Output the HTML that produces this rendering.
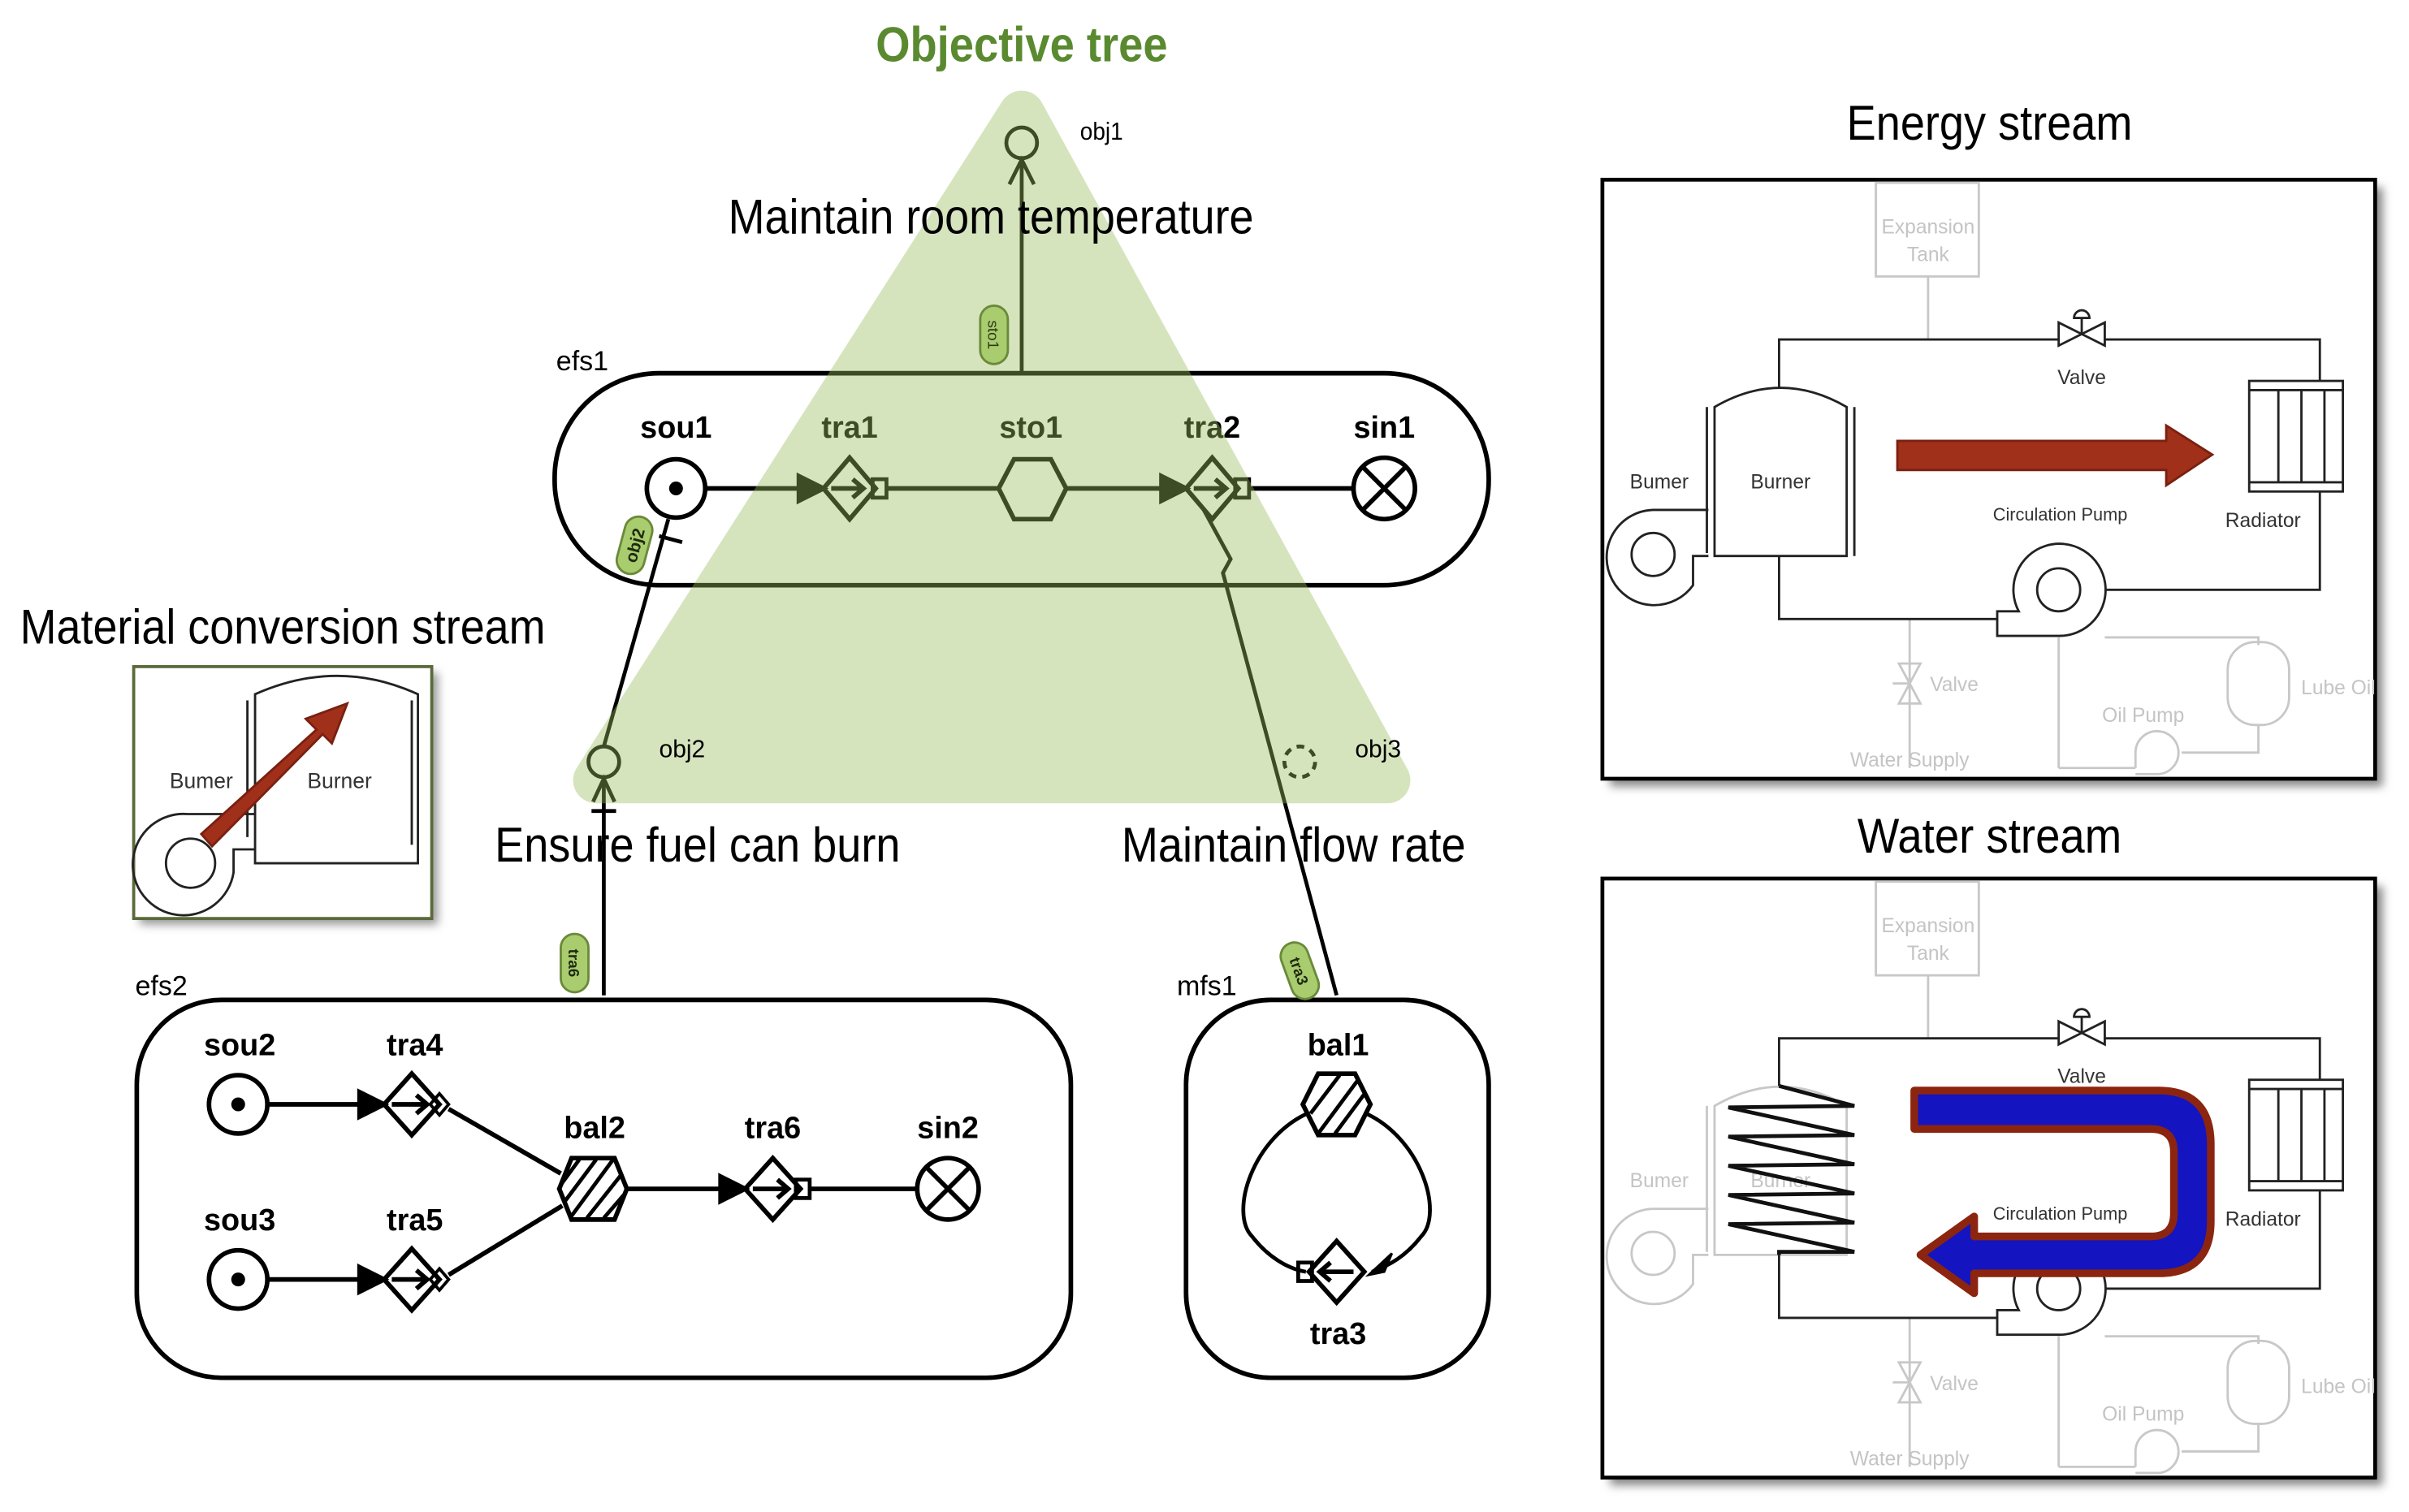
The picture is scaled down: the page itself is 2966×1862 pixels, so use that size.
<!DOCTYPE html>
<html><head><meta charset="utf-8"><style>
html,body{margin:0;padding:0;background:#fff;}
svg{display:block;}
text{font-family:"Liberation Sans",sans-serif;}
.lb{font-size:20px;font-weight:bold;text-anchor:middle;}
.big{font-size:32px;text-anchor:middle;}
.sm{font-size:18px;}
.pp{font-size:13px;}
.gt{fill:#c4c4c4;font-size:13px;text-anchor:middle;}
.bt{fill:#333;font-size:13px;text-anchor:middle;}
</style></head><body>
<svg width="2966" height="1862" viewBox="0 0 1568 984.4" xmlns="http://www.w3.org/2000/svg">
<defs>
<filter id="sh" x="-10%" y="-10%" width="130%" height="130%"><feGaussianBlur stdDeviation="3"/></filter>
</defs>

<text x="665" y="40" style="font-size:32px;font-weight:bold;fill:#5a8a30;text-anchor:middle" textLength="190" lengthAdjust="spacingAndGlyphs">Objective tree</text>

<!-- ================= efs1 ================= -->
<text x="362" y="241" class="sm">efs1</text>
<rect x="361" y="243" width="608" height="138" rx="68" fill="none" stroke="#000" stroke-width="3"/>
<g stroke="#000" stroke-width="3" fill="none">
  <circle cx="440" cy="318" r="19" fill="#fff"/>
  <line x1="459" y1="318" x2="522" y2="318"/>
  <polygon points="520,310 536,318 520,326" fill="#000"/>
  <polygon points="536,318 553,298 570,318 553,338" fill="none"/>
  <line x1="541" y1="318" x2="560" y2="318"/>
  <polyline points="555,312 562,318 555,324"/>
  <rect x="568" y="312" width="9" height="12" stroke-width="2.5"/>
  <line x1="577" y1="318" x2="650" y2="318"/>
  <polygon points="650,318 660,299 684,299 694,318 684,338 660,338"/>
  <line x1="694" y1="318" x2="758" y2="318"/>
  <polygon points="756,310 772,318 756,326" fill="#000"/>
  <polygon points="772,318 789,298 806,318 789,338"/>
  <line x1="777" y1="318" x2="796" y2="318"/>
  <polyline points="791,312 798,318 791,324"/>
  <rect x="804" y="312" width="9" height="12" stroke-width="2.5"/>
  <line x1="813" y1="318" x2="881" y2="318"/>
  <circle cx="901" cy="318" r="20" fill="#fff"/>
  <line x1="887" y1="304" x2="915" y2="332"/><line x1="915" y1="304" x2="887" y2="332"/>
</g>
<circle cx="440" cy="318" r="4.5" fill="#000"/>
<text x="440" y="285" class="lb">sou1</text>
<text x="553" y="285" class="lb">tra1</text>
<text x="671" y="285" class="lb">sto1</text>
<text x="789" y="285" class="lb">tra2</text>
<text x="901" y="285" class="lb">sin1</text>

<g stroke="#000" stroke-width="2.5" fill="none">
  <line x1="665" y1="242" x2="665" y2="104"/>
  <polyline points="657,120 665,104 673,120"/>
  <circle cx="665" cy="93" r="10"/>
  <line x1="435" y1="338" x2="393" y2="486"/>
  <line x1="429" y1="349" x2="444" y2="353"/>
  <circle cx="393" cy="496" r="10"/>
  <line x1="393" y1="648" x2="393" y2="507"/>
  <polyline points="386,522 393,507 400,522"/>
  <line x1="385" y1="528" x2="401" y2="528"/>
  <polyline points="783,331 801,364 796,373 870,648"/>
  <circle cx="846" cy="496" r="10" stroke-dasharray="5,4"/>
</g>

<!-- ================= efs2 ================= -->
<text x="88" y="648" class="sm">efs2</text>
<rect x="89" y="651" width="608" height="246" rx="55" fill="none" stroke="#000" stroke-width="3"/>
<g stroke="#000" stroke-width="3" fill="none">
  <circle cx="155" cy="719" r="19"/>
  <line x1="174" y1="719" x2="236" y2="719"/>
  <polygon points="234,711 250,719 234,727" fill="#000"/>
  <polygon points="250,719 268,699 286,719 268,739"/>
  <line x1="255" y1="719" x2="276" y2="719"/><polyline points="271,713 278,719 271,725"/>
  <polygon points="280,719 286,712 292,719 286,726" stroke-width="2"/>
  <line x1="292" y1="722" x2="365" y2="764"/>

  <circle cx="155" cy="833" r="19"/>
  <line x1="174" y1="833" x2="236" y2="833"/>
  <polygon points="234,825 250,833 234,841" fill="#000"/>
  <polygon points="250,833 268,813 286,833 268,853"/>
  <line x1="255" y1="833" x2="276" y2="833"/><polyline points="271,827 278,833 271,839"/>
  <polygon points="280,833 286,826 292,833 286,840" stroke-width="2"/>
  <line x1="292" y1="830" x2="366" y2="785"/>

  <polygon points="364,774 372,754 400,754 408,774 400,794 372,794"/>
  <line x1="366" y1="770" x2="377" y2="755" stroke-width="2.5"/>
  <line x1="367" y1="783" x2="388" y2="755" stroke-width="2.5"/>
  <line x1="371" y1="793" x2="399" y2="755" stroke-width="2.5"/>
  <line x1="382" y1="793" x2="405" y2="764" stroke-width="2.5"/>
  <line x1="393" y1="793" x2="406" y2="778" stroke-width="2.5"/>
  <line x1="408" y1="774" x2="471" y2="774"/>
  <polygon points="469,766 485,774 469,782" fill="#000"/>
  <polygon points="485,774 503,754 521,774 503,794"/>
  <line x1="490" y1="774" x2="511" y2="774"/><polyline points="506,768 513,774 506,780"/>
  <rect x="518" y="768" width="9" height="12" stroke-width="2.5"/>
  <line x1="527" y1="774" x2="597" y2="774"/>
  <circle cx="617" cy="774" r="20"/>
  <line x1="603" y1="760" x2="631" y2="788"/><line x1="631" y1="760" x2="603" y2="788"/>
</g>
<circle cx="155" cy="719" r="4.5"/>
<circle cx="155" cy="833" r="4.5"/>
<text x="156" y="687" class="lb">sou2</text>
<text x="270" y="687" class="lb">tra4</text>
<text x="387" y="741" class="lb">bal2</text>
<text x="503" y="741" class="lb">tra6</text>
<text x="617" y="741" class="lb">sin2</text>
<text x="156" y="801" class="lb">sou3</text>
<text x="270" y="801" class="lb">tra5</text>

<!-- ================= mfs1 ================= -->
<text x="766" y="648" class="sm">mfs1</text>
<rect x="772" y="651" width="197" height="246" rx="55" fill="none" stroke="#000" stroke-width="3"/>
<g stroke="#000" stroke-width="2.5" fill="none">
  <path d="M853,724 C815,740 800,790 815,805 C825,818 838,826 850,828"/>
  <path d="M887,724 C925,740 940,790 925,805 C915,818 904,824 893,828"/>
  <polygon points="891,830 906,816 901,828" fill="#000" stroke-width="1.5"/>
  <polygon points="848,719 858,699 882,699 892,719 882,739 858,739" stroke-width="3" fill="#fff"/>
  <line x1="853" y1="725" x2="872" y2="700"/>
  <line x1="858" y1="738" x2="884" y2="703"/>
  <line x1="869" y1="738" x2="889" y2="711"/>
  <polygon points="852,828 870,808 888,828 870,848" stroke-width="3" fill="#fff"/>
  <line x1="860" y1="828" x2="881" y2="828" stroke-width="3"/>
  <polyline points="866,822 859,828 866,834" stroke-width="3"/>
  <rect x="845" y="822" width="9" height="12"/>
</g>
<text x="871" y="687" class="lb">bal1</text>
<text x="871" y="875" class="lb">tra3</text>

<!-- ================= triangle overlay ================= -->
<g opacity="0.4">
<polygon points="665,74 388,508 903,508" fill="rgb(155,190,95)" stroke="rgb(155,190,95)" stroke-width="30" stroke-linejoin="round"/>
</g>

<text x="703" y="91" class="pp" style="font-size:16px" textLength="28" lengthAdjust="spacingAndGlyphs">obj1</text>
<text x="429" y="493" class="pp" style="font-size:16px" textLength="30" lengthAdjust="spacingAndGlyphs">obj2</text>
<text x="882" y="493" class="pp" style="font-size:16px" textLength="30" lengthAdjust="spacingAndGlyphs">obj3</text>
<text x="645" y="152" class="big" textLength="342" lengthAdjust="spacingAndGlyphs">Maintain room temperature</text>
<text x="454" y="561" class="big" textLength="264" lengthAdjust="spacingAndGlyphs">Ensure fuel can burn</text>
<text x="842" y="561" class="big" textLength="224" lengthAdjust="spacingAndGlyphs">Maintain flow rate</text>

<g transform="translate(647,218) rotate(90)">
  <rect x="-19" y="-9" width="38" height="18" rx="9" fill="#a9cc6e" stroke="#6a8a3a" stroke-width="1.5"/>
  <text x="0" y="4" style="font-size:10px;text-anchor:middle;fill:#2e3a18">sto1</text>
</g>
<g transform="translate(413,355) rotate(-75)">
  <rect x="-19" y="-9" width="38" height="18" rx="9" fill="#a9cc6e" stroke="#6a8a3a" stroke-width="1.5"/>
  <text x="0" y="4" style="font-size:11px;font-weight:bold;text-anchor:middle;fill:#1e2a10">obj2</text>
</g>
<g transform="translate(374,627) rotate(90)">
  <rect x="-19" y="-9" width="38" height="18" rx="9" fill="#a9cc6e" stroke="#6a8a3a" stroke-width="1.5"/>
  <text x="0" y="4" style="font-size:10px;font-weight:bold;text-anchor:middle;fill:#1e2a10">tra6</text>
</g>
<g transform="translate(846,632) rotate(70)">
  <rect x="-19" y="-9" width="38" height="18" rx="9" fill="#a9cc6e" stroke="#6a8a3a" stroke-width="1.5"/>
  <text x="0" y="4" style="font-size:10px;font-weight:bold;text-anchor:middle;fill:#1e2a10">tra3</text>
</g>

<!-- ================= Material conversion stream ================= -->
<text x="184" y="419" style="font-size:32px;text-anchor:middle" textLength="342" lengthAdjust="spacingAndGlyphs">Material conversion stream</text>
<rect x="91" y="438" width="194" height="164" fill="#999" filter="url(#sh)"/>
<rect x="87" y="434" width="194" height="164" fill="#fff" stroke="#5a6a3a" stroke-width="2"/>
<g stroke="#222" stroke-width="1.5" fill="none">
  <path d="M166,562 V452 Q220,428 272,452 V562 Z"/>
  <line x1="161" y1="456" x2="161" y2="545"/><line x1="268" y1="456" x2="268" y2="550"/>
  <path d="M166,530 H122 A33,33 0 1 0 152,568 V553 H166"/>
  <circle cx="124" cy="562" r="16"/>
</g>
<text x="131" y="513" class="bt" style="font-size:14px">Bumer</text>
<text x="221" y="513" class="bt" style="font-size:14px">Burner</text>
<polygon points="131,543 206,475 199,468 226,458 216,484 210,478 138,551" fill="#a0301a" stroke="#7a2010" stroke-width="1.5"/>

<!-- ================= Energy stream ================= -->
<text x="1295" y="91" style="font-size:32px;text-anchor:middle" textLength="186" lengthAdjust="spacingAndGlyphs">Energy stream</text>
<rect x="1048" y="122" width="503" height="390" fill="#888" filter="url(#sh)"/>
<rect x="1043" y="117" width="503" height="390" fill="#fff" stroke="#000" stroke-width="2.5"/>

<text x="1295" y="555" style="font-size:32px;text-anchor:middle" textLength="172" lengthAdjust="spacingAndGlyphs">Water stream</text>
<rect x="1048" y="577" width="503" height="390" fill="#888" filter="url(#sh)"/>
<rect x="1043" y="572" width="503" height="390" fill="#fff" stroke="#000" stroke-width="2.5"/>

<g>
  <g stroke="#c8c8c8" stroke-width="1.5" fill="none">
    <rect x="1221" y="119" width="67" height="61"/>
    <line x1="1255" y1="180" x2="1255" y2="221"/>
    <line x1="1243" y1="403" x2="1243" y2="500"/>
    <polygon points="1236,432 1250,432 1243,445 1236,458 1250,458 1243,445"/>
    <line x1="1243" y1="445" x2="1232" y2="445"/>
    <line x1="1340" y1="415" x2="1340" y2="500"/><line x1="1340" y1="500" x2="1390" y2="500"/>
    <polyline points="1370,415 1470,415 1470,420"/>
    <rect x="1450" y="418" width="40" height="54" rx="18"/>
    <polyline points="1470,472 1470,490 1420,490"/>
    <path d="M1390,500 V490 A14,14 0 1 1 1405,504 H1390"/>
  </g>
  <text x="1255" y="152" class="gt">Expansion</text><text x="1255" y="170" class="gt">Tank</text>
  <text x="1272" y="450" class="gt">Valve</text>
  <text x="1243" y="499" class="gt">Water Supply</text>
  <text x="1522" y="452" class="gt">Lube Oil</text>
  <text x="1395" y="470" class="gt">Oil Pump</text>
  <g stroke="#222" stroke-width="1.5" fill="none">
    <polyline points="1158,252 1158,221 1340,221"/>
    <polyline points="1370,221 1510,221 1510,248"/>
    <polygon points="1340,210 1340,225 1355,217.5 1370,210 1370,225 1355,217.5"/>
    <line x1="1355" y1="217" x2="1355" y2="207"/>
    <path d="M1350,207 A5,5 0 0 1 1360,207 Z"/>
    <path d="M1116,362 V265 Q1159,240 1202,265 V362 Z"/>
    <line x1="1111" y1="265" x2="1111" y2="360"/><line x1="1207" y1="265" x2="1207" y2="362"/>
    <path d="M1112,332 H1076 A31,31 0 1 0 1102,381 V362 H1112"/>
    <circle cx="1076" cy="361" r="14"/>
    <rect x="1464" y="248" width="61" height="72"/>
    <line x1="1464" y1="254" x2="1525" y2="254"/><line x1="1464" y1="314" x2="1525" y2="314"/>
    <line x1="1483" y1="254" x2="1483" y2="314"/><line x1="1498" y1="254" x2="1498" y2="314"/><line x1="1513" y1="254" x2="1513" y2="314"/>
    <polyline points="1510,320 1510,384 1371,384"/>
    <path d="M1340,414 A30,30 0 1 0 1314,398 H1300 V414 Z"/>
    <circle cx="1340" cy="384" r="14"/>
    <polyline points="1158,362 1158,403 1300,403"/>
  </g>
  <text x="1355" y="250" class="bt">Valve</text>
  <text x="1080" y="318" class="bt">Bumer</text>
  <text x="1159" y="318" class="bt">Burner</text>
  <text x="1341" y="339" class="bt" style="font-size:11.5px">Circulation Pump</text>
  <text x="1473" y="343" class="bt">Radiator</text>
  <polygon points="1235,287 1410,287 1410,277 1440,296 1410,316 1410,306 1235,306" fill="#a0301a" stroke="#7a2010" stroke-width="1.5"/>
</g>

<g transform="translate(0,455)">
  <g stroke="#c8c8c8" stroke-width="1.5" fill="none">
    <rect x="1221" y="119" width="67" height="61"/>
    <line x1="1255" y1="180" x2="1255" y2="221"/>
    <line x1="1243" y1="403" x2="1243" y2="500"/>
    <polygon points="1236,432 1250,432 1243,445 1236,458 1250,458 1243,445"/>
    <line x1="1243" y1="445" x2="1232" y2="445"/>
    <line x1="1340" y1="415" x2="1340" y2="500"/><line x1="1340" y1="500" x2="1390" y2="500"/>
    <polyline points="1370,415 1470,415 1470,420"/>
    <rect x="1450" y="418" width="40" height="54" rx="18"/>
    <polyline points="1470,472 1470,490 1420,490"/>
    <path d="M1390,500 V490 A14,14 0 1 1 1405,504 H1390"/>
    <path d="M1116,362 V265 Q1159,240 1202,265 V362 Z"/>
    <line x1="1111" y1="265" x2="1111" y2="360"/>
    <path d="M1112,332 H1076 A31,31 0 1 0 1102,381 V362 H1112"/>
    <circle cx="1076" cy="361" r="14"/>
  </g>
  <text x="1255" y="152" class="gt">Expansion</text><text x="1255" y="170" class="gt">Tank</text>
  <text x="1272" y="450" class="gt">Valve</text>
  <text x="1243" y="499" class="gt">Water Supply</text>
  <text x="1522" y="452" class="gt">Lube Oil</text>
  <text x="1395" y="470" class="gt">Oil Pump</text>
  <text x="1080" y="318" class="gt">Bumer</text>
  <text x="1159" y="318" class="gt">Burner</text>
  <g stroke="#222" stroke-width="1.5" fill="none">
    <polyline points="1158,252 1158,221 1340,221"/>
    <polyline points="1370,221 1510,221 1510,248"/>
    <polygon points="1340,210 1340,225 1355,217.5 1370,210 1370,225 1355,217.5"/>
    <line x1="1355" y1="217" x2="1355" y2="207"/>
    <path d="M1350,207 A5,5 0 0 1 1360,207 Z"/>
    <rect x="1464" y="248" width="61" height="72"/>
    <line x1="1464" y1="254" x2="1525" y2="254"/><line x1="1464" y1="314" x2="1525" y2="314"/>
    <line x1="1483" y1="254" x2="1483" y2="314"/><line x1="1498" y1="254" x2="1498" y2="314"/><line x1="1513" y1="254" x2="1513" y2="314"/>
    <polyline points="1510,320 1510,384 1371,384"/>
    <path d="M1340,414 A30,30 0 1 0 1314,398 H1300 V414 Z"/>
    <circle cx="1340" cy="384" r="14"/>
    <polyline points="1158,362 1158,403 1300,403"/>
  </g>
  <g stroke="#111" stroke-width="2.5" fill="none">
    <polyline points="1158,252 1207,265 1125,266 1207,284 1125,285 1207,303 1125,304 1207,322 1125,323 1207,341 1125,342 1207,360 1158,360 1158,362"/>
  </g>
  <text x="1355" y="250" class="bt">Valve</text>
  <text x="1341" y="339" class="bt" style="font-size:11.5px">Circulation Pump</text>
  <text x="1473" y="343" class="bt">Radiator</text>
</g>
<path d="M1246,710 H1405 Q1439,710 1439,745 V795 Q1439,829 1405,829 H1285 V842 L1250,817 L1285,792 V805 H1400 Q1415,805 1415,790 V750 Q1415,735 1400,735 H1246 Z" fill="#1414c0" stroke="#8b2510" stroke-width="5" stroke-linejoin="round"/>
</svg>
</body></html>
